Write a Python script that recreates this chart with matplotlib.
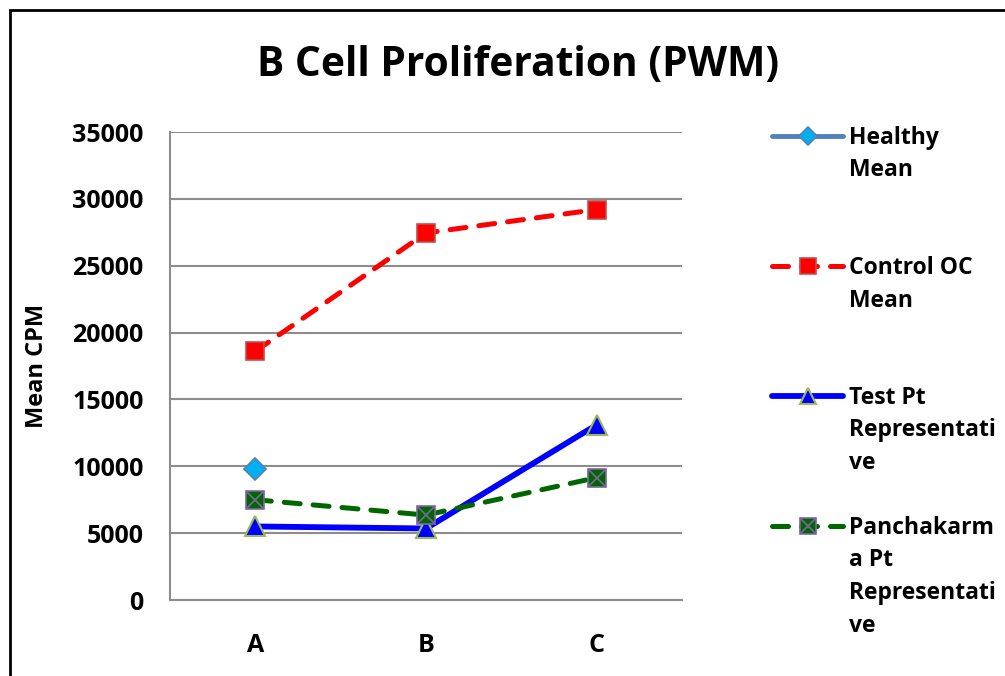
import matplotlib
matplotlib.use("Agg")
import matplotlib.pyplot as plt
from matplotlib.patches import Rectangle
from matplotlib.lines import Line2D
import numpy as np

plt.rcParams['font.family'] = ['Open Sans', 'DejaVu Sans']
plt.rcParams['font.weight'] = 'bold'

categories = ["A", "B", "C"]
healthy_mean = [9800, np.nan, np.nan]
control_oc_mean = [18600, 27450, 29200]
test_pt = [5500, 5350, 13100]
panchakarma_pt = [7500, 6350, 9150]
y_ticks = [0, 5000, 10000, 15000, 20000, 25000, 30000, 35000]
series_labels = ["Healthy\nMean", "Control OC\nMean",
                 "Test Pt\nRepresentati\nve", "Panchakarm\na Pt\nRepresentati\nve"]

W, H = 1005, 676
fig = plt.figure(figsize=(W / 100, H / 100), dpi=100)
ax = fig.add_axes([170 / W, 1 - 600 / H, 512 / W, 468 / H])

x = np.arange(len(categories))
dash = (0, (3.2, 2.6))

styles = [
    dict(color='#4F81BD', lw=3.5, ls='-', marker='D', ms=11,
         mfc='#00B0F0', mec='#4F81BD', mew=1.2),
    dict(color='#FF0000', lw=3.6, ls=dash, dash_capstyle='round', marker='s',
         ms=13, mfc='#FF0000', mec='#C0504D', mew=1.2),
    dict(color='#0000FF', lw=4.2, ls='-', marker='^', ms=14,
         mfc='#0000FF', mec='#9BBB59', mew=1.5),
    dict(color='#006600', lw=3.6, ls=dash, dash_capstyle='round', marker='s',
         ms=13, mfc='#006600', mec='#8064A2', mew=1.2),
]
series = [healthy_mean, control_oc_mean, test_pt, panchakarma_pt]

for vals, st in zip(series, styles):
    ax.plot(x, vals, zorder=3, **st)
# cross drawn over the Panchakarma squares
ax.plot(x, panchakarma_pt, ls='none', marker='x', ms=12, mec='#8064A2',
        mew=1.2, zorder=4)

ax.set_xlim(-0.5, 2.5)
ax.set_ylim(0, 35000)
ax.set_yticks(y_ticks)
ax.set_yticklabels([str(v) for v in y_ticks])
ax.set_xticks(x)
ax.set_xticklabels(categories)
ax.tick_params(axis='both', length=0, labelsize=18)
ax.tick_params(axis='y', pad=19)
ax.tick_params(axis='x', pad=24)
for lbl in ax.get_xticklabels() + ax.get_yticklabels():
    lbl.set_fontweight('bold')

ax.yaxis.grid(True, color='#8C8C8C', lw=1.5)
ax.set_axisbelow(True)
for side in ('top', 'right'):
    ax.spines[side].set_visible(False)
for side in ('left', 'bottom'):
    ax.spines[side].set_color('#8C8C8C')
    ax.spines[side].set_linewidth(1.5)

fig.text(37 / W, 1 - 366 / H, 'Mean CPM', rotation=90, ha='center', va='center',
         fontsize=17, fontweight='bold')

fig.text(518 / W, 1 - 65 / H, 'B Cell Proliferation (PWM)', ha='center',
         va='center', fontsize=29.3, fontweight='bold')

# legend: handle aligned with the first line of each label
entry_tops = [136, 266, 396, 526]
line_step = 32.5
for lab, st, y0 in zip(series_labels, styles, entry_tops):
    yf = 1 - y0 / H
    fig.add_artist(Line2D([772 / W, 843 / W], [yf, yf], transform=fig.transFigure,
                          color=st['color'], lw=st['lw'], ls=st['ls'],
                          solid_capstyle='round', dash_capstyle='round'))
    fig.add_artist(Line2D([808 / W], [yf], transform=fig.transFigure, ls='none',
                          marker=st['marker'], ms=st['ms'] * 0.85, mfc=st['mfc'],
                          mec=st['mec'], mew=st['mew']))
    for i, line in enumerate(lab.split('\n')):
        fig.text(849 / W, 1 - (y0 + 2 + i * line_step) / H, line, ha='left',
                 va='center', fontsize=16.5, fontweight='bold')
fig.add_artist(Line2D([808 / W], [1 - entry_tops[3] / H], transform=fig.transFigure,
                      ls='none', marker='x', ms=10, mec='#8064A2', mew=1.2))

fig.patches.append(Rectangle((10 / W, -0.05), 1.2, 1 - 10 / H + 0.05,
                             transform=fig.transFigure, fill=False,
                             edgecolor='black', lw=2, zorder=10))

fig.savefig('out.png', dpi=100)
